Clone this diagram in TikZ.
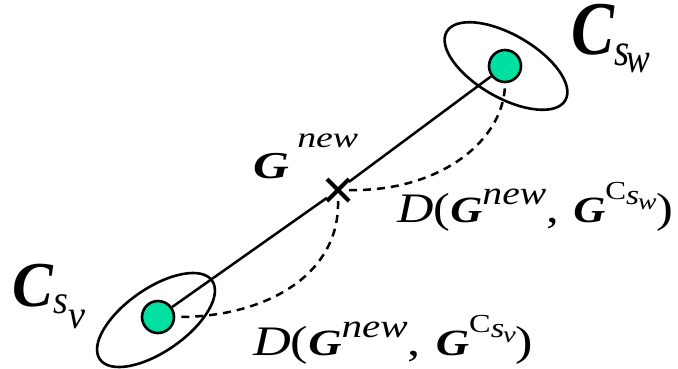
\documentclass[tikz,border=0pt]{standalone}
\usepackage{fontspec}
\setmainfont{Liberation Serif}
\usetikzlibrary{shapes.geometric, shapes.misc, positioning}
\definecolor{dotgreen}{RGB}{0,224,160}

\newcommand{\fsz}[1]{\fontsize{#1}{#1}\selectfont}
% distance label D(G^new, G^{C_s?}), stretched to the given width
\newcommand{\distlabel}[2]{\resizebox{#2}{\height}{\fsz{42}\itshape D\upshape(\textbf{\itshape\fsz{37}G}\raisebox{18pt}{\fsz{33}\itshape new}\fsz{42},\hspace{12pt}\textbf{\itshape\fsz{37}G}\raisebox{23pt}{\fsz{26}C\raisebox{-5pt}{\fsz{28}\itshape s}\kern-1pt\raisebox{-10pt}{\fsz{23}\itshape #1}}\fsz{42})}}

\begin{document}
\begin{tikzpicture}[
    x=1pt, y=-1pt,
    cluster/.style={ellipse, draw, line width=2.6pt, inner sep=0pt, minimum width=137pt, minimum height=63pt},
    center/.style={circle, draw, fill=dotgreen, line width=2.6pt, inner sep=0pt, minimum size=32pt},
    xmark/.style={cross out, draw, line width=4pt, inner sep=0pt, minimum size=18pt},
    link/.style={line width=2.5pt},
    dist/.style={link, dashed, dash pattern=on 8pt off 6pt},
    label/.style={anchor=base west, inner sep=0pt}
]
\useasboundingbox (0,0) rectangle (678,368);

\node[cluster, rotate=-30] (cw) at (506,66) {};
\node[cluster, rotate=35] (cv) at (156,320) {};
\node[center] (dotw) at (505,66) {};
\node[center] (dotv) at (158,317) {};
\node[xmark] (gnew) at (338,190) {};

\draw[link] (gnew) -- (dotw);
\draw[link] (gnew) -- (dotv);

% distances
\draw[dist] (gnew.east) .. controls (440,192) and (505,140) .. (dotw.south);
\draw[dist] (gnew.south) .. controls (340,275) and (265,318) .. (dotv.east);

% Labels
\node[label] (labw) at (571,54) {\resizebox{79pt}{\height}{\fsz{76}\textbf{\itshape C}\raisebox{-11pt}{\fsz{46}\itshape s}\kern-4pt\raisebox{-18pt}{\fsz{42}\itshape w}}};
\node[label] (labv) at (12,306) {\resizebox{73pt}{\height}{\fsz{64}\textbf{\itshape C}\raisebox{-7pt}{\fsz{40}\itshape s}\raisebox{-22pt}{\fsz{40}\itshape v}}};
\node[label] (labg) at (253,178) {\resizebox{105pt}{\height}{\fsz{38}\textbf{\itshape G}\,\raisebox{31pt}{\fsz{29}\itshape new}}};
\node[label] (labdw) at (397,222) {\distlabel{w}{276pt}};
\node[label] (labdv) at (253,355) {\distlabel{v}{280pt}};

\end{tikzpicture}
\end{document}
